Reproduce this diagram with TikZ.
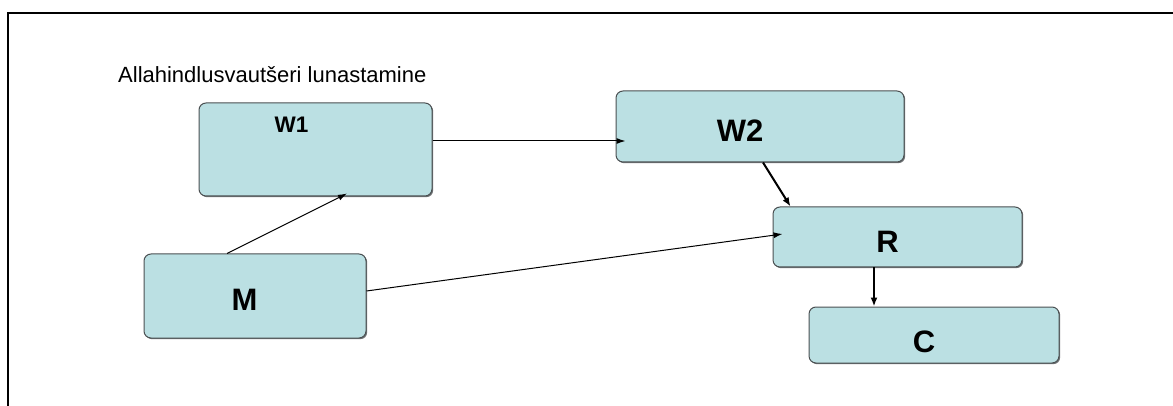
\documentclass[tikz,border=0pt]{standalone}
\usepackage{fontspec}
\setmainfont{Liberation Sans}
\usetikzlibrary{arrows.meta,shadows}
\definecolor{myfill}{RGB}{187,224,227}
\definecolor{myline}{RGB}{75,80,82}

\tikzset{
  box/.style={draw=myline, line width=1pt, fill=myfill, rounded corners=7pt,
    drop shadow={shadow xshift=1.2pt, shadow yshift=-1.2pt, fill=myline!80, opacity=1}},
  boxtext/.style={font=\bfseries\fontsize{31}{36}\selectfont, inner sep=0pt, text depth=0pt},
  smalltext/.style={font=\bfseries\fontsize{22.5}{26}\selectfont, inner sep=0pt, text depth=0pt},
  thin arrow/.style={-{Latex[length=9pt,width=6pt]}, line width=1pt},
  thick arrow/.style={-{Latex[length=9pt,width=7pt]}, line width=2pt}
}

\begin{document}
\begin{tikzpicture}[x=1pt, y=-1pt]
			\useasboundingbox (0,0) rectangle (1173,406);

			% Draw the frame and the title
			\draw[line width=2.4pt] (8,406) -- (8,13) -- (1173,13);
			\node[anchor=base west, inner sep=0pt, font=\fontsize{22}{26}\selectfont] (title) at (118,83) {Allahindlusvautšeri lunastamine};

			% Draw the boxes
			\node[box, minimum width=233, minimum height=93] (w1) at (315.5,149.5) {};
			\node[box, minimum width=288, minimum height=71] (w2) at (760,126.5) {};
			\node[box, minimum width=222, minimum height=84] (m) at (255,296) {};
			\node[box, minimum width=249, minimum height=60] (r) at (897.5,237) {};
			\node[box, minimum width=250, minimum height=56] (c) at (934,335) {};

			% Label the boxes
			\node[smalltext] (w1 text) at (291.5,124.5) {W1};
			\node[boxtext] (w2 text) at (740,131) {W2};
			\node[boxtext] (m text) at (244.5,300) {M};
			\node[boxtext] (r text) at (887.5,241.5) {R};
			\node[boxtext] (c text) at (924,341.5) {C};

			% Draw the arrows
			\draw[thin arrow] ([yshift=8.5pt]w1.east) -- ([xshift=10pt,yshift=-14.5pt]w2.west);
			\draw[thin arrow] ([xshift=-28pt]m.north) -- ([xshift=31.5pt,yshift=3pt]w1.south);
			\draw[thin arrow] ([yshift=5pt]m.east) -- ([xshift=10pt,yshift=3pt]r.west);
			\draw[thick arrow] ([xshift=3pt]w2.south) -- ([xshift=18pt]r.north west);
			\draw[thick arrow] ([xshift=-23.5pt]r.south) -- ([xshift=-23.5pt]r.south |- c.north);
		\end{tikzpicture}
\end{document}
